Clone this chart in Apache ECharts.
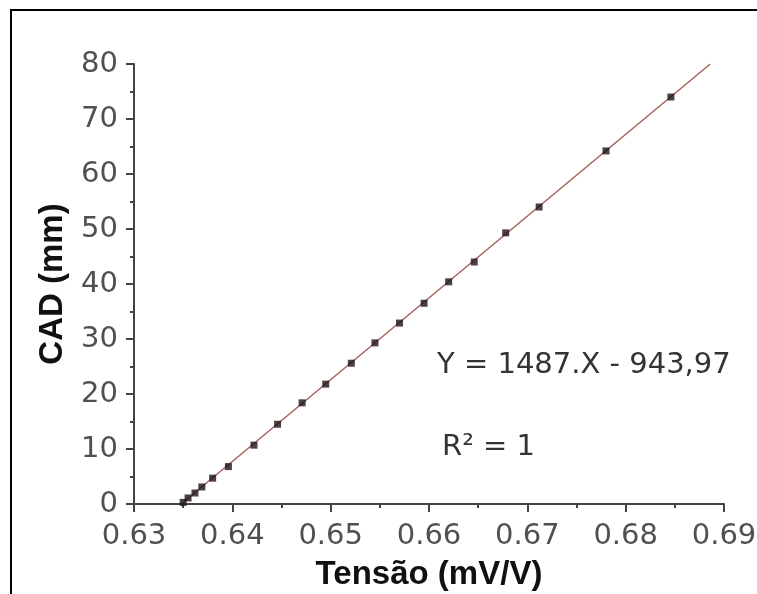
<!DOCTYPE html>
<html>
<head>
<meta charset="utf-8">
<script src="https://cdn.jsdelivr.net/npm/echarts@6/dist/echarts.min.js"></script>
<style>html,body{margin:0;padding:0;background:#fff;}#c{width:757px;height:594px;}</style>
</head>
<body>
<div id="c"></div>
<script>
// Measured points (Tensão mV/V, CAD mm)
const tensao = [0.6350, 0.6355, 0.6362, 0.6369, 0.6380, 0.6396, 0.6422, 0.6446, 0.6471, 0.6495, 0.6521, 0.6545, 0.6570, 0.6595, 0.6620, 0.6646, 0.6678, 0.6712, 0.6780, 0.6846];
const cad    = [0.3, 1.1, 2.0, 3.1, 4.7, 6.8, 10.7, 14.5, 18.4, 21.8, 25.6, 29.3, 32.9, 36.5, 40.4, 44.0, 49.3, 54.0, 64.2, 74.0];
// Fitted line end points
const fitX = [0.6348, 0.6886];
const fitY = [0, 80];
const xTicks = [0.63, 0.64, 0.65, 0.66, 0.67, 0.68, 0.69];
const yTicks = [0, 10, 20, 30, 40, 50, 60, 70, 80];
const eqText = 'Y = 1487.X - 943,97';
const r2Text = 'R² = 1';

const chart = echarts.init(document.getElementById('c'), null, {renderer: 'canvas'});
const font = 'DejaVu Sans, sans-serif';
const boldFont = 'Liberation Sans, Arial, sans-serif';
chart.setOption({
  animation: false,
  backgroundColor: '#fff',
  grid: {left: 134, right: 33, top: 64, bottom: 90, outerBoundsMode: 'none', containLabel: false},
  xAxis: {
    type: 'value', min: xTicks[0], max: xTicks[xTicks.length - 1], interval: 0.01,
    name: 'Tensão (mV/V)', nameLocation: 'middle', nameGap: 54,
    nameTextStyle: {fontFamily: boldFont, fontSize: 33, fontWeight: 'bold', color: '#111'},
    axisLine: {show: true, onZero: false, lineStyle: {color: '#444', width: 2}},
    axisTick: {show: true, inside: false, length: 8, lineStyle: {color: '#444', width: 2}},
    minorTick: {show: true, splitNumber: 2, length: 4, lineStyle: {color: '#444', width: 2}},
    splitLine: {show: false},
    axisLabel: {fontFamily: font, fontSize: 29, color: '#505050', margin: 18,
      formatter: v => v.toFixed(2)}
  },
  yAxis: {
    type: 'value', min: yTicks[0], max: yTicks[yTicks.length - 1], interval: 10,
    name: 'CAD (mm)', nameLocation: 'middle', nameGap: 65, nameRotate: 90,
    nameTextStyle: {fontFamily: boldFont, fontSize: 33, fontWeight: 'bold', color: '#111'},
    axisLine: {show: true, onZero: false, lineStyle: {color: '#444', width: 2}},
    axisTick: {show: true, inside: false, length: 8, lineStyle: {color: '#444', width: 2}},
    minorTick: {show: true, splitNumber: 2, length: 4, lineStyle: {color: '#444', width: 2}},
    splitLine: {show: false},
    axisLabel: {fontFamily: font, fontSize: 29, color: '#505050', margin: 16}
  },
  series: [
    {
      type: 'line', data: fitX.map((x, i) => [x, fitY[i]]), showSymbol: false,
      lineStyle: {color: '#a8605c', width: 1.5}, z: 2
    },
    {
      type: 'scatter', data: tensao.map((x, i) => [x, cad[i]]),
      symbol: 'rect', symbolSize: 7, itemStyle: {color: '#1c1214'}, z: 3
    }
  ],
  graphic: [
    {type: 'rect', shape: {x: 11, y: 10, width: 800, height: 700},
     style: {fill: null, stroke: '#000', lineWidth: 2}, silent: true},
    {type: 'text', left: 437, top: 351,
     style: {text: eqText, font: '29px ' + font, fill: '#333'}},
    {type: 'text', left: 442, top: 433,
     style: {text: r2Text, font: '29px ' + font, fill: '#333'}}
  ]
});
</script>
</body>
</html>
